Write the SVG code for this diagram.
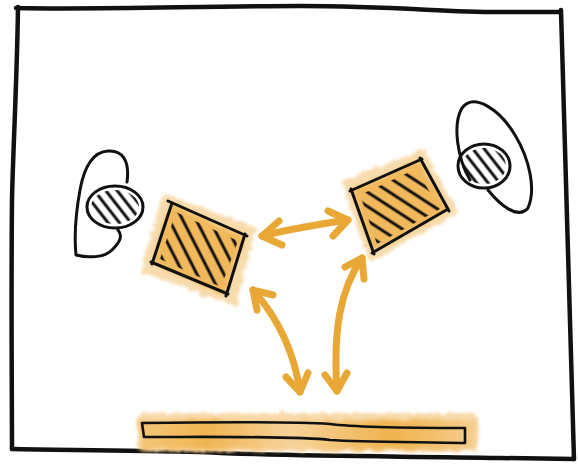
<svg xmlns="http://www.w3.org/2000/svg" width="578" height="469" viewBox="0 0 578 469">
  <defs>
    <style>
      .ink { fill: none; stroke: #111; stroke-linecap: round; stroke-linejoin: round; }
      .frame { stroke-width: 4.5; }
      .line { stroke-width: 3; }
      .arrow { fill: none; stroke: #E9A736; stroke-width: 7; stroke-linecap: round; stroke-linejoin: round; }
      .wash { fill: #F1B95C; filter: url(#rough); }
      .halo { fill: #F8DCAE; filter: url(#soft); }
    </style>
    <filter id="rough" x="-20%" y="-40%" width="140%" height="180%">
      <feTurbulence type="fractalNoise" baseFrequency="0.09" numOctaves="2" seed="4" result="n"/>
      <feDisplacementMap in="SourceGraphic" in2="n" scale="7" xChannelSelector="R" yChannelSelector="G"/>
      <feGaussianBlur stdDeviation="2.2"/>
    </filter>
    <filter id="soft" x="-30%" y="-60%" width="160%" height="220%">
      <feTurbulence type="fractalNoise" baseFrequency="0.15" numOctaves="2" seed="9" result="n"/>
      <feDisplacementMap in="SourceGraphic" in2="n" scale="8" xChannelSelector="R" yChannelSelector="G"/>
      <feGaussianBlur stdDeviation="1.4"/>
    </filter>
    <pattern id="hatchL" width="12" height="12" patternUnits="userSpaceOnUse" patternTransform="rotate(-27)">
      <line x1="3" y1="0" x2="3" y2="12" stroke="#111" stroke-width="3"/>
    </pattern>
    <pattern id="hatchR" width="12" height="12" patternUnits="userSpaceOnUse" patternTransform="rotate(-57)">
      <line x1="3" y1="0" x2="3" y2="12" stroke="#111" stroke-width="3"/>
    </pattern>
    <pattern id="hatchC" width="9" height="9" patternUnits="userSpaceOnUse" patternTransform="rotate(-38)">
      <line x1="2" y1="0" x2="2" y2="9" stroke="#111" stroke-width="3"/>
    </pattern>
    <linearGradient id="boardFill" x1="0" x2="1" y1="0" y2="0">
      <stop offset="0" stop-color="#F4C677"/>
      <stop offset="0.2" stop-color="#F0B452"/>
      <stop offset="0.45" stop-color="#F7D39A"/>
      <stop offset="0.75" stop-color="#F0B24E"/>
      <stop offset="1" stop-color="#F6CE8E"/>
    </linearGradient>
  </defs>

  <rect width="578" height="469" fill="#fff"/>

  <!-- outer frame -->
  <g id="frame">
    <path class="ink frame" d="M16,8 C100,10 200,6 300,6 C400,6 450,13 507,12 L560,12"/>
    <path class="ink frame" d="M18,7 C17,80 13,150 12,200 C11,300 12,400 12,449"/>
    <path class="ink frame" d="M561,10 C565,150 570,300 574,459"/>
    <path class="ink frame" d="M12,449 C60,450 120,450 200,452 C300,457 400,456 500,458 L574,459"/>
  </g>

  <!-- left lamp -->
  <g id="lamp-left">
    <path class="ink line" d="M127,182 C130,160 122,150 108,151 C92,152 84,168 80,190 C76,212 74,235 76,255 C88,258 104,258 112,250 C120,242 123,236 118,230"/>
    <ellipse cx="115" cy="207" rx="24" ry="17" fill="url(#hatchC)"/>
    <ellipse class="ink line" cx="115" cy="207" rx="28" ry="21"/>
  </g>

  <!-- right lamp -->
  <g id="lamp-right">
    <path class="ink line" d="M470,180 C458,160 452,125 462,108 C474,92 500,110 515,135 C530,160 536,190 528,208 C518,220 500,205 488,190"/>
    <ellipse cx="484" cy="166" rx="22" ry="18" fill="url(#hatchC)"/>
    <ellipse class="ink line" cx="484" cy="166" rx="26" ry="22"/>
  </g>

  <!-- left panel -->
  <g id="panel-left">
    <polygon class="halo" points="163,193 256,228 236,306 140,272"/>
    <polygon class="wash" points="170,203 245,237 225,295 152,263"/>
    <polygon points="176,212 238,241 221,287 160,259" fill="url(#hatchL)"/>
    <path class="ink line" d="M168,201 L247,236 M245,234 L226,296 M228,294 L151,262 M152,264 L172,203"/>
  </g>

  <!-- right panel -->
  <g id="panel-right">
    <polygon class="halo" points="341,181 424,150 459,212 370,263"/>
    <polygon class="wash" points="352,190 420,160 448,210 373,252"/>
    <polygon points="360,195 416,169 440,209 377,244" fill="url(#hatchR)"/>
    <path class="ink line" d="M350,191 L422,159 M420,158 L449,211 M448,209 L372,253 M374,254 L351,189"/>
  </g>

  <!-- floor board -->
  <g id="board">
    <rect class="halo" x="138" y="413" width="340" height="38" rx="6"/>
    <rect x="140" y="420" width="336" height="30" fill="url(#boardFill)" filter="url(#rough)"/>
    <path class="ink" stroke-width="2.6" d="M142,423 C220,422 300,422 330,424 C360,428 420,428 465,428 L465,443 C420,442 360,442 330,440 C300,436 220,437 144,437 L142,423"/>
  </g>

  <!-- connectors -->
  <g id="connectors">
    <path class="arrow" d="M262,236 C290,229 320,224 348,220"/>
    <path class="arrow" d="M279,221 L262,236 L282,245"/>
    <path class="arrow" d="M328,211 L348,220 L333,236"/>

    <path class="arrow" d="M253,290 C278,318 294,350 300,392"/>
    <path class="arrow" d="M257,310 L253,290 L273,295"/>
    <path class="arrow" d="M286,377 L300,392 L308,373"/>

    <path class="arrow" d="M362,258 C340,290 333,330 337,391"/>
    <path class="arrow" d="M345,267 L362,258 L364,279"/>
    <path class="arrow" d="M325,375 L337,391 L347,373"/>
  </g>
</svg>
